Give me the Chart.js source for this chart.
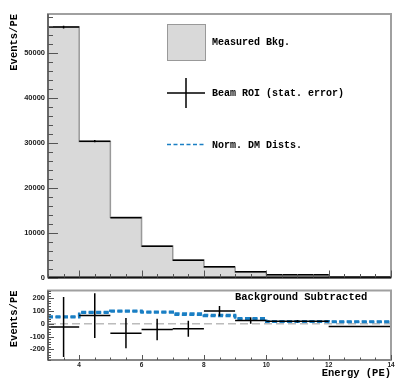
<!DOCTYPE html>
<html><head><meta charset="utf-8">
<script src="https://cdn.jsdelivr.net/npm/chart.js@4.4.1/dist/chart.umd.min.js"></script>
<style>
body{margin:0;background:#fff;overflow:hidden;}
#topc{position:absolute;left:0;top:0;}
#botc{position:absolute;left:0;top:283px;}
</style></head><body>
<canvas id="topc" width="399" height="285"></canvas>
<canvas id="botc" width="399" height="97"></canvas>
<script>
// ---------- data ----------
const binEdges   = [3, 4, 5, 6, 7, 8, 9, 10, 12, 14];
const bkgValues  = [55800, 30300, 13400, 7000, 3900, 2300, 1250, 600, 150];
const roiValues  = [55780, 30360, 13330, 6960, 3860, 2400, 1280, 620, 130];
const roiErrors  = [330, 250, 170, 120, 90, 70, 50, 25, 15];
const subValues  = [-25, 65, -73, -45, -38, 100, 26, 20, -20];
const subErrors  = [235, 175, 118, 84, 63, 40, 25, 10, 6];
const dmDistA    = [52, 86, 96, 88, 72, 62, 38, 16, 14];
const dmDistB    = [58, 92, 102, 94, 80, 70, 44, 20, 18];
const yTicksTop  = [0, 10000, 20000, 30000, 40000, 50000];
const yTicksBot  = [-200, -100, 0, 100, 200];
const xTicksBot  = [4, 6, 8, 10, 12, 14];
const legendLabels = ['Measured Bkg.', 'Beam ROI (stat. error)', 'Norm. DM Dists.'];
const subTitle = 'Background Subtracted';

// ---------- helpers ----------
function stepPoints(vals, base) {
  const pts = [];
  if (base !== undefined) pts.push({x: binEdges[0], y: base});
  vals.forEach((v, i) => { pts.push({x: binEdges[i], y: v}); pts.push({x: binEdges[i + 1], y: v}); });
  if (base !== undefined) pts.push({x: binEdges[binEdges.length - 1], y: base});
  return pts;
}
function crossPoints(vals, errs) {
  return vals.map((v, i) => ({x: (binEdges[i] + binEdges[i + 1]) / 2, y: v,
    xlo: binEdges[i], xhi: binEdges[i + 1], err: errs[i]}));
}
const BLUE = '#1a7fc4';
const MONO = "'Liberation Mono', 'DejaVu Sans Mono', monospace";
const SANS = "'Liberation Sans', Arial, sans-serif";

const crossPlugin = {
  id: 'cross',
  afterDatasetsDraw(chart) {
    const {ctx, chartArea: a, scales: {x, y}} = chart;
    chart.data.datasets.forEach(ds => {
      if (!ds.crossData) return;
      ctx.save();
      ctx.beginPath(); ctx.rect(a.left, a.top, a.right - a.left, a.bottom - a.top); ctx.clip();
      ctx.strokeStyle = '#000'; ctx.lineWidth = 1.5;
      ctx.beginPath();
      ds.crossData.forEach(p => {
        const x0 = x.getPixelForValue(p.xlo), x1 = x.getPixelForValue(p.xhi), xc = x.getPixelForValue(p.x);
        const yc = y.getPixelForValue(p.y), ylo = y.getPixelForValue(p.y - p.err), yhi = y.getPixelForValue(p.y + p.err);
        ctx.moveTo(x0, yc); ctx.lineTo(x1, yc);
        ctx.moveTo(xc, ylo); ctx.lineTo(xc, yhi);
      });
      ctx.stroke();
      ctx.restore();
    });
  }
};

const frameTicksPlugin = {
  id: 'frameTicks',
  beforeDatasetsDraw(chart, args, opts) {
    if (!opts.zeroLine) return;
    const {ctx, chartArea: a, scales: {y}} = chart;
    const yz = y.getPixelForValue(0);
    ctx.save();
    ctx.strokeStyle = '#999'; ctx.lineWidth = 1; ctx.setLineDash([8, 4]);
    ctx.beginPath(); ctx.moveTo(a.left, yz); ctx.lineTo(a.right, yz); ctx.stroke();
    ctx.restore();
  },
  afterDraw(chart, args, opts) {
    const {ctx, chartArea: a, scales: {x, y}} = chart;
    ctx.save();
    ctx.strokeStyle = '#a0a0a0'; ctx.lineWidth = 2;
    ctx.strokeRect(a.left, a.top, a.right - a.left, a.bottom - a.top);
    ctx.strokeStyle = '#555'; ctx.lineWidth = 1.5;
    ctx.beginPath(); ctx.moveTo(a.left, a.top); ctx.lineTo(a.left, a.bottom); ctx.stroke();
    ctx.strokeStyle = opts.bottomColor; ctx.lineWidth = 2;
    ctx.beginPath(); ctx.moveTo(a.left, a.bottom); ctx.lineTo(a.right, a.bottom); ctx.stroke();
    ctx.strokeStyle = '#555'; ctx.lineWidth = 1;
    ctx.beginPath();
    for (let v = x.min; v <= x.max + 1e-9; v += 0.5) {
      const px = Math.round(x.getPixelForValue(v)) + 0.5;
      const len = (Math.abs(v / 2 - Math.round(v / 2)) < 1e-9) ? opts.xMajor : opts.xMinor;
      ctx.moveTo(px, a.bottom); ctx.lineTo(px, a.bottom - len);
    }
    const start = Math.ceil(y.min / opts.yMinorStep) * opts.yMinorStep;
    for (let v = start; v <= y.max + 1e-9; v += opts.yMinorStep) {
      const py = Math.round(y.getPixelForValue(v)) + 0.5;
      const isMaj = Math.abs(v / opts.yMajorStep - Math.round(v / opts.yMajorStep)) < 1e-9;
      ctx.moveTo(a.left, py); ctx.lineTo(a.left + (isMaj ? opts.yMajor : opts.yMinor), py);
    }
    ctx.stroke();
    ctx.restore();
  }
};

const legendPlugin = {
  id: 'customLegend',
  afterDraw(chart) {
    const {ctx} = chart;
    ctx.save();
    ctx.fillStyle = '#d9d9d9'; ctx.fillRect(167, 24, 39, 37);
    ctx.strokeStyle = '#999'; ctx.lineWidth = 1; ctx.strokeRect(167.5, 24.5, 38, 36);
    ctx.strokeStyle = '#000'; ctx.lineWidth = 1.5;
    ctx.beginPath(); ctx.moveTo(167, 93); ctx.lineTo(205, 93); ctx.moveTo(186, 78); ctx.lineTo(186, 108); ctx.stroke();
    ctx.strokeStyle = BLUE; ctx.lineWidth = 1.5; ctx.setLineDash([4, 2.5]);
    ctx.beginPath(); ctx.moveTo(167, 144.5); ctx.lineTo(205, 144.5); ctx.stroke();
    ctx.setLineDash([]);
    ctx.fillStyle = '#000'; ctx.font = 'bold 10px ' + MONO; ctx.textBaseline = 'middle'; ctx.textAlign = 'left';
    ctx.fillText(legendLabels[0], 212, 42.5);
    ctx.fillText(legendLabels[1], 212, 93.5);
    ctx.fillText(legendLabels[2], 212, 145);
    ctx.restore();
  }
};

const titlePlugin = {
  id: 'subTitle',
  afterDraw(chart) {
    const {ctx, chartArea: a} = chart;
    ctx.save();
    ctx.fillStyle = '#000'; ctx.font = 'bold 10.5px ' + MONO; ctx.textBaseline = 'middle'; ctx.textAlign = 'left';
    ctx.fillText(subTitle, 235, a.top + 6.5);
    ctx.restore();
  }
};

const common = {
  responsive: false, animation: false, devicePixelRatio: 1, events: [],
  plugins: {legend: {display: false}, tooltip: {enabled: false}},
  elements: {point: {radius: 0}, line: {tension: 0}}
};

// ---------- top chart ----------
new Chart(document.getElementById('topc'), {
  type: 'line',
  data: {datasets: [
    {label: 'Measured Bkg.', data: stepPoints(bkgValues, 0), fill: 'origin',
     backgroundColor: '#d9d9d9', borderColor: '#999', borderWidth: 1.5},
    {label: 'Beam ROI', data: crossPoints(roiValues, roiErrors), showLine: false,
     crossData: crossPoints(roiValues, roiErrors)}
  ]},
  options: Object.assign({}, common, {
    layout: {autoPadding: false, padding: {top: 14, right: 8, left: 0, bottom: 0}},
    plugins: Object.assign({}, common.plugins, {
      frameTicks: {bottomColor: '#111', xMajor: 7, xMinor: 3.5, yMajorStep: 10000, yMinorStep: 2000, yMajor: 10, yMinor: 5}
    }),
    scales: {
      x: {type: 'linear', min: 3, max: 14, grid: {display: false, drawTicks: false}, border: {display: false},
          ticks: {display: false}, afterFit: s => { s.height = 7; }},
      y: {type: 'linear', min: 0, max: 58700, grid: {display: false, drawTicks: false}, border: {display: false},
          afterBuildTicks: s => { s.ticks = yTicksTop.map(v => ({value: v})); },
          ticks: {padding: 3, color: '#222', font: {family: SANS, weight: 'bold', size: 7.5}, callback: v => String(v)},
          title: {display: true, text: 'Events/PE', align: 'end', color: '#000',
                  font: {family: MONO, weight: 'bold', size: 10.5}, padding: {top: 8, bottom: 0}},
          afterFit: s => { s.width = 48; }}
    }
  }),
  plugins: [crossPlugin, frameTicksPlugin, legendPlugin]
});

// ---------- bottom chart ----------
new Chart(document.getElementById('botc'), {
  type: 'line',
  data: {datasets: [
    {label: 'Norm. DM Dists. A', data: stepPoints(dmDistA), borderColor: BLUE, borderWidth: 2.5, borderDash: [5, 2.5], fill: false},
    {label: 'Norm. DM Dists. B', data: stepPoints(dmDistB), borderColor: BLUE, borderWidth: 2.5, borderDash: [5, 2.5], fill: false},
    {label: 'Beam ROI - Bkg', data: crossPoints(subValues, subErrors), showLine: false,
     crossData: crossPoints(subValues, subErrors)}
  ]},
  options: Object.assign({}, common, {
    layout: {autoPadding: false, padding: {top: 5, right: 8, left: 0, bottom: 0}},
    plugins: Object.assign({}, common.plugins, {
      frameTicks: {zeroLine: true, bottomColor: '#888', xMajor: 5, xMinor: 2.5, yMajorStep: 100, yMinorStep: 20, yMajor: 6, yMinor: 3}
    }),
    scales: {
      x: {type: 'linear', min: 3, max: 14, grid: {display: false, drawTicks: false}, border: {display: false},
          afterBuildTicks: s => { s.ticks = xTicksBot.map(v => ({value: v})); },
          ticks: {padding: 1, color: '#222', font: {family: SANS, weight: 'bold', size: 6.5}, maxRotation: 0, callback: v => String(v)},
          title: {display: true, text: 'Energy (PE)', align: 'end', color: '#000',
                  font: {family: MONO, weight: 'bold', size: 10.5}, padding: {top: 0, bottom: 0}},
          afterFit: s => { s.height = 20; }},
      y: {type: 'linear', min: -283, max: 261, grid: {display: false, drawTicks: false}, border: {display: false},
          afterBuildTicks: s => { s.ticks = yTicksBot.map(v => ({value: v})); },
          ticks: {padding: 3, color: '#222', font: {family: SANS, weight: 'bold', size: 7.5}, callback: v => String(v)},
          title: {display: true, text: 'Events/PE', align: 'end', color: '#000',
                  font: {family: MONO, weight: 'bold', size: 10.5}, padding: {top: 8, bottom: 0}},
          afterFit: s => { s.width = 48; }}
    }
  }),
  plugins: [crossPlugin, frameTicksPlugin, titlePlugin]
});
</script>
</body></html>
